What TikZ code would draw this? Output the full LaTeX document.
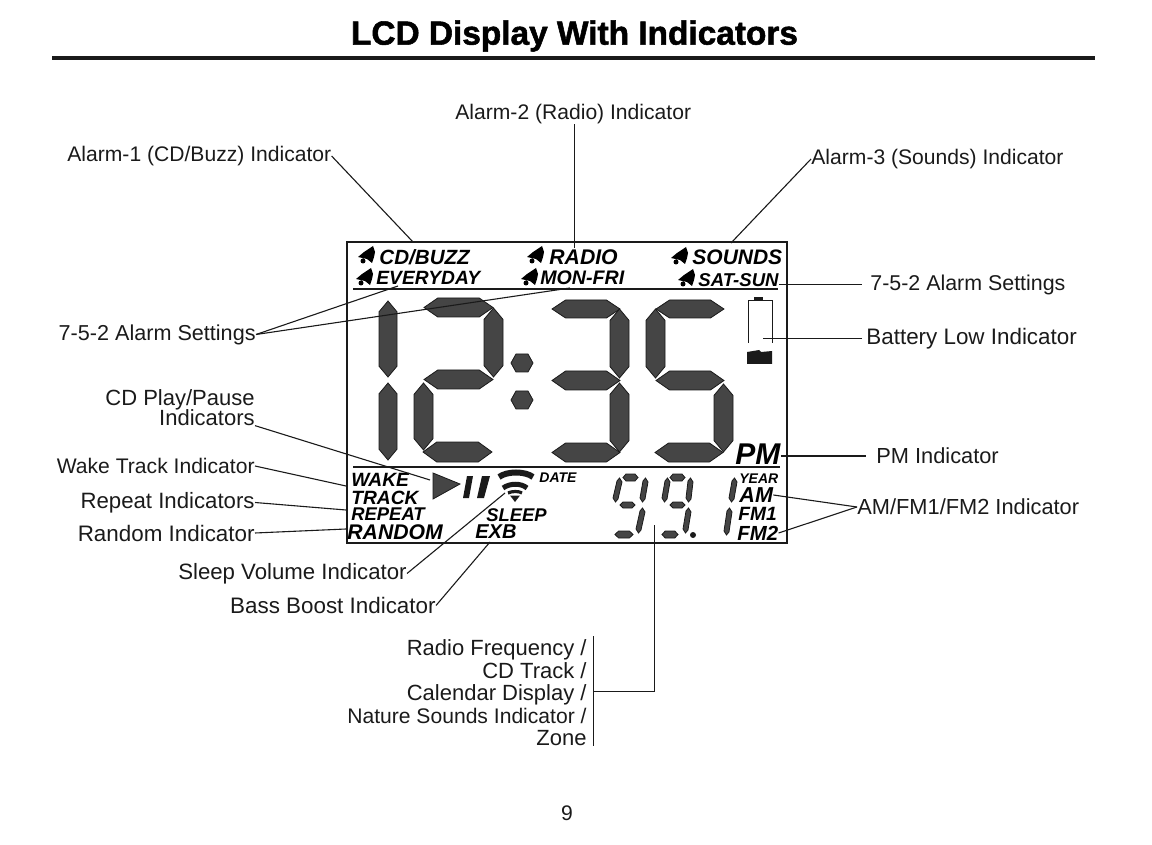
\documentclass[tikz,border=0pt]{standalone}
\usepackage{fontspec}
\setmainfont{Liberation Sans}
\newfontfamily\titlefont[FakeBold=1.6]{Liberation Sans Bold}
\definecolor{mInk}{HTML}{1A1A1A}
\definecolor{mSeg}{HTML}{454545}
\usetikzlibrary{positioning}
\tikzset{
  labeltext/.style={inner sep=0pt, text=mInk, font=\fontsize{#1}{11.25}\selectfont},
  labeltext/.default=10.55,
  lcdtext/.style={inner sep=0pt, anchor=west, text=black, font=\fontsize{#1}{#1}\selectfont\bfseries\itshape},
  leader/.style={draw=mInk, line width=0.55pt},
  segment/.style={draw=mInk, line width=0.4pt, fill=mSeg}
}
% horizontal segment: x1 x2 y1 y2
\newcommand{\hseg}[4]{%
\pgfmathsetmacro{\bev}{min((#4-#3)*0.85,(#2-#1)*0.2)}%
\fill[segment] (#1,{(#3+#4)/2}) -- (#1+\bev,#3) -- (#2-\bev,#3) -- (#2,{(#3+#4)/2}) -- (#2-\bev,#4) -- (#1+\bev,#4) -- cycle;}
% vertical segment: x1 x2 y1 y2
\newcommand{\vseg}[4]{%
\pgfmathsetmacro{\bev}{(#2-#1)*0.6}%
\fill[segment] ({(#1+#2)/2},#3) -- (#2,#3+\bev) -- (#2,#4-\bev) -- ({(#1+#2)/2},#4) -- (#1,#4-\bev) -- (#1,#3+\bev) -- cycle;}
% slanted small segment: x1 x2 y1 y2
\newcommand{\sseg}[4]{%
\fill[segment] (#2-2.5,#3) -- (#2,#3+4) -- (#1+5,#4-3) -- (#1+2.5,#4) -- (#1,#4-4) -- (#2-5,#3+3) -- cycle;}
\newcommand{\bell}[2]{%
\fill[black, shift={(#1,#2)}] (6,-9) -- (8,-3) -- (7,2) -- (5,8) -- (0,4) -- (-9,2) -- (-3,-3) -- cycle (-4,6) circle (2.5);}
\begin{document}
\begin{tikzpicture}[x=0.5pt,y=-0.5pt]
\useasboundingbox (0,0) rectangle (1152,845);
% title
\node[inner sep=0pt, font=\fontsize{16.7}{18}\titlefont] (title) at (574.5,36) {LCD Display With Indicators};
\fill[mInk] (52,56.5) rectangle (1095,60);
\node[labeltext] (pagenum) at (567,813) {9};
% screen
\draw[draw=mInk, line width=1.3pt] (347,242) rectangle (787,543);
\draw[leader] (353,289) -- (778,289);
\draw[leader, line width=0.7pt] (353,467) -- (780,467);
% large digits
\vseg{379}{397}{301}{377}
\vseg{379}{397}{383}{460}
\hseg{424}{493}{298}{317}
\vseg{484}{503}{308}{377}
\hseg{424}{493}{370}{389}
\vseg{414}{433}{383}{450}
\hseg{423}{492}{442}{462}
\fill[segment] (511,363) -- (516,354) -- (528,354) -- (533,363) -- (528,372) -- (516,372) -- cycle;
\fill[segment] (511,400) -- (516,391) -- (528,391) -- (533,400) -- (528,409) -- (516,409) -- cycle;
\hseg{552}{620}{300}{318}
\vseg{610}{629}{309}{378}
\hseg{552}{620}{371}{390}
\vseg{610}{629}{383}{452}
\hseg{552}{620}{443}{462}
\hseg{656}{724}{300}{318}
\vseg{646}{665}{309}{378}
\hseg{656}{724}{371}{390}
\vseg{714}{733}{384}{452}
\hseg{655}{723}{443}{462}
% small digits
\hseg{623}{638}{474}{481}
\sseg{613}{622}{478}{502}
\sseg{640}{648}{478}{502}
\hseg{620}{635}{502}{508}
\sseg{636}{645}{508}{533}
\hseg{615}{633}{531}{538}
\hseg{670}{685}{474}{481}
\sseg{662}{670}{478}{502}
\sseg{686}{693}{478}{502}
\hseg{670}{685}{502}{508}
\sseg{683}{691}{508}{533}
\hseg{662}{678}{531}{538}
\fill[mInk] (693,535) circle (3);
\sseg{729}{737}{478}{502}
\sseg{724}{732}{508}{535}
% battery
\draw[mInk, line width=0.5pt] (748,343) -- (748,301) -- (772,301) -- (772,343);
\fill[mInk] (754,297.5) rectangle (763,301);
\fill[mInk] (747,352) -- (759,350) -- (761,352) -- (772,351) -- (772,364) -- (747,364) -- cycle;
% play, pause, volume
\fill[segment] (433,473) -- (460,484) -- (433,499) -- cycle;
\fill[mInk] (467,476) -- (473,476) -- (469,498) -- (463,498) -- cycle;
\fill[mInk] (482,476) -- (490,476) -- (484,498) -- (477,498) -- cycle;
\draw[mInk, line width=3pt] (499,477) .. controls (507,471) and (525,471) .. (533,477);
\draw[mInk, line width=2.5pt] (503,488) .. controls (510,483) and (521,483) .. (527,488);
\draw[mInk, line width=1.6pt] (508,493) .. controls (512,491) and (519,491) .. (522,493);
\fill[mInk] (510,495.5) -- (520,495.5) -- (515,502) -- cycle;
% screen texts
\bell{367}{255}
\bell{365}{277}
\bell{536}{255}
\bell{530}{277}
\bell{680}{256}
\bell{687}{278}
\node[lcdtext=10.3] (cdbuzz) at (379,257) {CD/BUZZ};
\node[lcdtext=9.6] (everyday) at (376,278) {EVERYDAY};
\node[lcdtext=10.6] (radio) at (549,257) {RADIO};
\node[lcdtext=9.8] (monfri) at (540,278) {MON-FRI};
\node[lcdtext=10.5] (sounds) at (692,257) {SOUNDS};
\node[lcdtext=9.3] (satsun) at (698,280) {SAT-SUN};
\node[lcdtext=15] (pm) at (735,454) {PM};
\node[lcdtext=9.6] (wake) at (351,480) {WAKE};
\node[lcdtext=9.6] (track) at (351,497.5) {TRACK};
\node[lcdtext=9.2] (repeat) at (351,514.5) {REPEAT};
\node[lcdtext=10.6] (random) at (347,532.5) {RANDOM};
\node[lcdtext=9.2] (sleep) at (486,515) {SLEEP};
\node[lcdtext=10] (exb) at (475,532) {EXB};
\node[lcdtext=7] (date) at (539,478) {DATE};
\node[lcdtext=7] (year) at (739,478.5) {YEAR};
\node[lcdtext=10.8] (am) at (739,495) {AM};
\node[lcdtext=9.6] (fma) at (738,514) {FM1};
\node[lcdtext=10.2] (fmb) at (737,533) {FM2};
% labels
\node[labeltext, anchor=west] (alarmb) at (455,114) {Alarm-2 (Radio) Indicator};
\node[labeltext, anchor=west] (alarma) at (67,156) {Alarm-1 (CD/Buzz) Indicator};
\node[labeltext, anchor=west] (alarmc) at (811,159) {Alarm-3 (Sounds) Indicator};
\node[labeltext=10.7, anchor=west] (settingsr) at (870,284.5) {7-5-2 Alarm Settings};
\node[labeltext=10.8, anchor=east] (settingsl) at (256,334.5) {7-5-2 Alarm Settings};
\node[labeltext=11.2, anchor=west] (battery) at (866,339) {Battery Low Indicator};
\node[labeltext=11, anchor=east, align=right] (cdplay) at (255,407.5) {CD Play/Pause\\[-1.6pt]Indicators};
\node[labeltext, anchor=east] (waketrack) at (255,466) {Wake Track Indicator};
\node[labeltext=11.1, anchor=east] (repeatlbl) at (255,502.5) {Repeat Indicators};
\node[labeltext=11.2, anchor=east] (randomlbl) at (255,533) {Random Indicator};
\node[labeltext=11.1, anchor=east] (sleepvol) at (407,573.5) {Sleep Volume Indicator};
\node[labeltext=11.2, anchor=east] (bass) at (436,605.5) {Bass Boost Indicator};
\node[labeltext=10.9, anchor=west] (pmlbl) at (876,456) {PM Indicator};
\node[labeltext=10.9, anchor=west] (amfm) at (857,507) {AM/FM1/FM2 Indicator};
\node[labeltext=11, anchor=east, align=right] (freq) at (587,693) {Radio Frequency /\\CD Track /\\Calendar Display /\\{\fontsize{10.55}{11.25}\selectfont Nature Sounds Indicator /}\\Zone};
% connector ends
\coordinate (tipalarma) at (413,242);
\coordinate (tipalarmb) at (574.5,248);
\coordinate (tipalarmc) at (731,243);
\coordinate (tipevery) at (398,286);
\coordinate (tipmon) at (570,288);
\coordinate (tipbatt) at (763,338.5);
\coordinate (tipplay) at (430,480);
\coordinate (tipwake) at (346,486);
\coordinate (tiprepeat) at (346,510);
\coordinate (tiprandom) at (346,529);
\coordinate (tipvol) at (505,493);
\coordinate (tipexb) at (490,542);
\coordinate (tipdigit) at (654.5,525);
\coordinate (freqtop) at (593.5,636);
\coordinate (freqbot) at (593.5,746);
\coordinate (freqmid) at (593.5,691.5);
\coordinate (freqcorner) at (654.5,691.5);
% connectors
\draw[leader] (alarma.east) -- (tipalarma);
\draw[leader] (alarmb.south -| tipalarmb) -- (tipalarmb);
\draw[leader] (alarmc.west) -- (tipalarmc);
\draw[leader, shorten >=4pt] (settingsr.west -| satsun.east) -- (settingsr.west);
\draw[leader] (settingsl.east) -- (tipevery);
\draw[leader] (settingsl.east) -- (tipmon);
\draw[leader, shorten <=2pt] (battery.west |- tipbatt) -- (tipbatt);
\draw[leader] (cdplay.south east) -- (tipplay);
\draw[leader] (waketrack.east) -- (tipwake);
\draw[leader] (repeatlbl.east) -- (tiprepeat);
\draw[leader] (randomlbl.east) -- (tiprandom);
\draw[leader] (sleepvol.east) -- (tipvol);
\draw[leader] (bass.east) -- (tipexb);
\draw[leader, shorten >=5pt] (pmlbl.west -| pm.east) -- (pmlbl.west);
\draw[leader] (am.east) -- (amfm.west);
\draw[leader] (fmb.east) -- (amfm.west);
\draw[leader] (freqtop) -- (freqbot);
\draw[leader] (freqmid) -- (freqcorner) -- (tipdigit);
\end{tikzpicture}
\end{document}
